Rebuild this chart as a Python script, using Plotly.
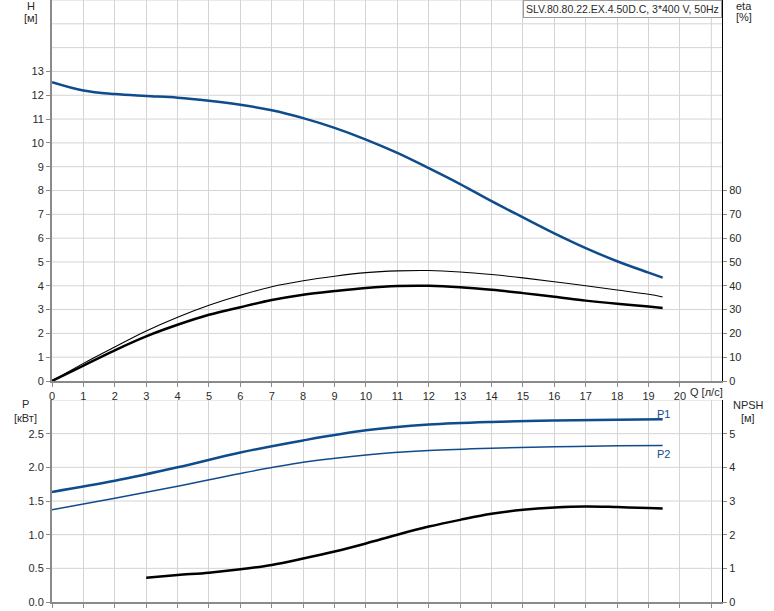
import plotly.graph_objects as go

# ---- data ----
q_h = [0, 1, 2, 3, 4, 5, 6, 7, 8, 9, 10, 11, 12, 13, 14, 15, 16, 17, 18, 19, 19.45]
h = [12.55, 12.2, 12.05, 11.97, 11.9, 11.77, 11.6, 11.37, 11.04, 10.63, 10.14,
     9.58, 8.94, 8.27, 7.55, 6.87, 6.2, 5.58, 5.03, 4.55, 4.34]

q_eta = q_h
eta_pump = [0, 7.4, 14.3, 21, 26.8, 31.8, 36, 39.6, 42.1, 44, 45.5, 46.25, 46.4,
            45.8, 44.7, 43.3, 41.7, 40, 38.2, 36.4, 35.3]
eta_total = [0, 6.5, 12.9, 18.75, 23.6, 27.8, 31, 34, 36.25, 37.8, 39.1, 39.9, 40,
             39.4, 38.3, 36.9, 35.4, 33.75, 32.4, 31.25, 30.7]

q_p = [0, 2, 4, 6, 8, 10, 12, 14, 16, 18, 19.45]
p1 = [1.635, 1.80, 2.0, 2.22, 2.4, 2.55, 2.635, 2.675, 2.695, 2.705, 2.715]
p2 = [1.37, 1.54, 1.72, 1.91, 2.075, 2.185, 2.25, 2.285, 2.305, 2.32, 2.325]

q_npsh = [3, 4, 5, 6, 7, 8, 9, 10, 11, 12, 13, 14, 15, 16, 17, 18, 19, 19.45]
npsh = [0.72, 0.80, 0.87, 0.97, 1.10, 1.29, 1.50, 1.74, 2.0, 2.24, 2.44, 2.62,
        2.74, 2.81, 2.84, 2.82, 2.79, 2.78]

x_ticks = list(range(0, 21))
h_ticks = list(range(0, 14))
eta_ticks = list(range(0, 90, 10))
p_ticks = [0.0, 0.5, 1.0, 1.5, 2.0, 2.5]
npsh_ticks = [0, 1, 2, 3, 4, 5]

title_text = "SLV.80.80.22.EX.4.50D.C, 3*400 V, 50Hz"

# ---- styling ----
BLUE = "#0f4c8c"
GRID = "#d4d4d4"
AXG = "#8a8a8a"
FONT = "Liberation Sans"
TXT = "#2a2a2a"

fig = go.Figure()
fig.add_trace(go.Scatter(x=q_h, y=h, mode="lines", line=dict(color=BLUE, width=2.5, shape="spline"),
                         xaxis="x", yaxis="y", hoverinfo="skip"))
fig.add_trace(go.Scatter(x=q_eta, y=eta_pump, mode="lines", line=dict(color="black", width=1.1, shape="spline"),
                         xaxis="x", yaxis="y2", hoverinfo="skip"))
fig.add_trace(go.Scatter(x=q_eta, y=eta_total, mode="lines", line=dict(color="black", width=2.5, shape="spline"),
                         xaxis="x", yaxis="y2", hoverinfo="skip"))
fig.add_trace(go.Scatter(x=q_p, y=p1, mode="lines", line=dict(color=BLUE, width=2.5, shape="spline"),
                         xaxis="x2", yaxis="y3", hoverinfo="skip"))
fig.add_trace(go.Scatter(x=q_p, y=p2, mode="lines", line=dict(color=BLUE, width=1.5, shape="spline"),
                         xaxis="x2", yaxis="y3", hoverinfo="skip"))
fig.add_trace(go.Scatter(x=q_npsh, y=npsh, mode="lines", line=dict(color="black", width=2.5, shape="spline"),
                         xaxis="x2", yaxis="y4", hoverinfo="skip"))

W, H = 774, 611
ml, mr, mt, mb = 52, 52, 0, 9
ph = H - mt - mb
top_lo = (602 - 381) / ph
bot_hi = (602 - 400) / ph

xr = [0, 21.34]
tickfont = dict(family=FONT, size=11, color=TXT)

fig.update_layout(
    width=W, height=H, showlegend=False,
    margin=dict(l=ml, r=mr, t=mt, b=mb, autoexpand=False),
    paper_bgcolor="white", plot_bgcolor="white",
    font=dict(family=FONT, size=11, color=TXT),
    xaxis=dict(domain=[0, 1], anchor="y", range=xr, tickvals=x_ticks,
               ticktext=[str(v) for v in x_ticks],
               showgrid=True, gridcolor=GRID, gridwidth=1,
               showline=True, linecolor=AXG, linewidth=2,
               ticks="outside", ticklen=4, tickcolor=AXG, tickfont=tickfont,
               zeroline=False, fixedrange=True),
    xaxis2=dict(domain=[0, 1], anchor="y3", range=xr, tickvals=list(range(0, 22)),
                showticklabels=False,
                showgrid=True, gridcolor=GRID, gridwidth=1,
                showline=True, linecolor=AXG, linewidth=2,
                ticks="outside", ticklen=4, tickcolor=AXG,
                zeroline=False, fixedrange=True),
    yaxis=dict(domain=[top_lo, 1], anchor="x", range=[0, 16],
               tickvals=h_ticks, ticktext=[str(v) for v in h_ticks],
               showgrid=False,
               showline=True, linecolor=AXG, linewidth=2,
               ticks="outside", ticklen=4, tickcolor=AXG, tickfont=tickfont,
               zeroline=False, fixedrange=True),
    yaxis2=dict(overlaying="y", side="right", anchor="x", range=[0, 160],
                tickvals=eta_ticks, ticktext=[str(v) for v in eta_ticks],
                showgrid=False,
                showline=True, linecolor="black", linewidth=1,
                ticks="outside", ticklen=4, tickcolor=AXG, tickfont=tickfont,
                zeroline=False, fixedrange=True),
    yaxis3=dict(domain=[0, bot_hi], anchor="x2", range=[0, 3.0],
                tickvals=p_ticks, ticktext=["%.1f" % v for v in p_ticks],
                showgrid=False,
                showline=True, linecolor=AXG, linewidth=2,
                ticks="outside", ticklen=4, tickcolor=AXG, tickfont=tickfont,
                zeroline=False, fixedrange=True),
    yaxis4=dict(overlaying="y3", side="right", anchor="x2", range=[0, 6],
                tickvals=npsh_ticks, ticktext=[str(v) for v in npsh_ticks],
                showgrid=False,
                showline=True, linecolor="black", linewidth=1,
                ticks="outside", ticklen=4, tickcolor=AXG, tickfont=tickfont,
                zeroline=False, fixedrange=True),
)

# horizontal grid lines (full unit grid incl. unlabelled ones)
shapes = []
for v in range(1, 17):
    shapes.append(dict(type="line", xref="x domain", yref="y", x0=0, x1=1, y0=v, y1=v,
                       line=dict(color=GRID, width=1), layer="below"))
for v in [0.5, 1.0, 1.5, 2.0, 2.5, 3.0]:
    shapes.append(dict(type="line", xref="x2 domain", yref="y3", x0=0, x1=1, y0=v, y1=v,
                       line=dict(color=GRID, width=1), layer="below"))
# extra vertical grid at 21 in top plot
shapes.append(dict(type="line", xref="x", yref="y domain", x0=21, x1=21, y0=0, y1=1,
                   line=dict(color=GRID, width=1), layer="below"))
fig.update_layout(shapes=shapes)

def px_x(px):
    return (px - ml) / (W - ml - mr)

def px_y(py):
    return (602 - py) / ph

ann = []
def label(text, x, y, xanchor="center", color=TXT, size=11):
    ann.append(dict(text=text, xref="paper", yref="paper", x=px_x(x), y=px_y(y),
                    xanchor=xanchor, yanchor="middle", showarrow=False,
                    font=dict(family=FONT, size=size, color=color)))

label("H", 31, 6)
label("[м]", 31, 18)
label("eta", 744, 6)
label("[%]", 744, 17)
label("P", 25, 404)
label("[кВт]", 25, 418)
label("NPSH", 748, 405)
label("[м]", 748, 418)
label("Q [л/с]", 688, 392, xanchor="left")
label("P1", 655, 414, xanchor="left", color=BLUE)
label("P2", 655, 454, xanchor="left", color=BLUE)

ann.append(dict(text=title_text, xref="paper", yref="paper", x=1, y=1,
                xanchor="right", yanchor="top", showarrow=False,
                bgcolor="white", bordercolor="#9a9a9a", borderwidth=1, borderpad=2,
                font=dict(family=FONT, size=10.5, color=TXT)))
fig.update_layout(annotations=ann)

fig.write_html("out.html", config={"displayModeBar": False},
               post_script="document.body.style.margin='0px';document.body.style.padding='0px';")
